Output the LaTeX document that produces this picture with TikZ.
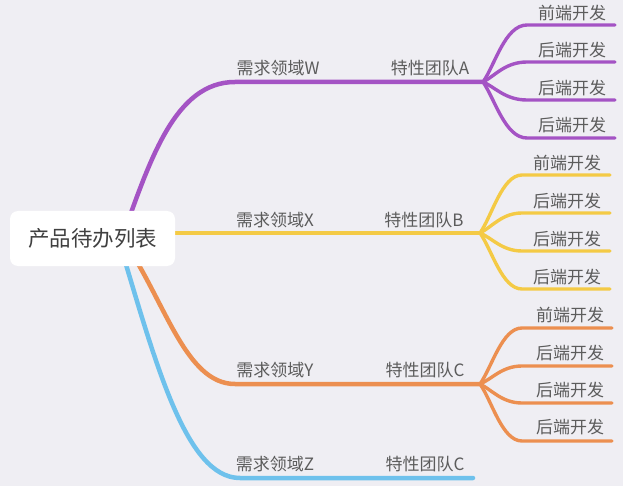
\documentclass[tikz,border=0pt]{standalone}
\usepackage{fontspec}
\setmainfont{Noto Sans CJK SC}
\definecolor{bg}{HTML}{EFEEF3}
\definecolor{cpur}{HTML}{A453C4}
\definecolor{cyel}{HTML}{F4CA45}
\definecolor{cora}{HTML}{EC8F50}
\definecolor{cblu}{HTML}{6EC1EC}
\definecolor{ctxt}{HTML}{5C5C5C}
\begin{document}
\begin{tikzpicture}[x=1pt,y=-1pt,
  lbl/.style={text=ctxt,font=\fontsize{17}{20}\selectfont,inner sep=0pt},
  rootbox/.style={fill=white,rounded corners=8pt,minimum width=165pt,minimum height=55pt,text=black!75,font=\fontsize{21.5}{24}\selectfont},
  mainline/.style={line width=4.5pt,line cap=round},
  leafline/.style={line width=3.4pt,line cap=round}]
\fill[bg] (0,0) rectangle (623,486);
\useasboundingbox (0,0) rectangle (623,486);
% branch points
\coordinate (r0) at (122,238);
\coordinate (A) at (483,82);
\coordinate (B) at (480,233);
\coordinate (C) at (480,384);
\coordinate (Z) at (473,478);
\coordinate (w0) at (235,82);
\coordinate (y0) at (235,384);
\coordinate (z0) at (240,478);
\coordinate (x0) at (150,233);
% main branches
\draw[mainline,cpur] (r0) .. controls (150,160) and (175,82) .. (w0) -- (A);
\draw[mainline,cblu] (118,238) .. controls (155,360) and (185,478) .. (z0) -- (Z);
\draw[mainline,cora] (r0) .. controls (165,300) and (185,384) .. (y0) -- (C);
\draw[mainline,cyel] (x0) -- (B);
% fan A
\foreach \n/\y/\c in {1/25/65,2/62/76,3/100/87,4/138/99}{
  \coordinate (a\n s) at (527,\y);
  \coordinate (a\n e) at (615,\y);
  \draw[leafline,cpur] (A) .. controls (495,\c) and (505,\y) .. (a\n s) -- (a\n e);
}
% fan B
\foreach \n/\y/\c in {1/175/216,2/213/227,3/251/238,4/289/250}{
  \coordinate (b\n s) at (522,\y);
  \coordinate (b\n e) at (610,\y);
  \draw[leafline,cyel] (B) .. controls (492,\c) and (502,\y) .. (b\n s) -- (b\n e);
}
% fan C
\foreach \n/\y/\c in {1/328/367,2/366/379,3/403/390,4/441/401}{
  \coordinate (c\n s) at (522,\y);
  \coordinate (c\n e) at (612,\y);
  \draw[leafline,cora] (C) .. controls (492,\c) and (502,\y) .. (c\n s) -- (c\n e);
}
% root
\node[rootbox] (root) at (92.5,238.5) {产品待办列表};
% mid labels
\node[lbl] (lw) at (278,68) {需求领域W};
\node[lbl] (ta) at (430,68) {特性团队A};
\node[lbl] (lx) at (275,220) {需求领域X};
\node[lbl] (tb) at (424,220) {特性团队B};
\node[lbl] (ly) at (275,370) {需求领域Y};
\node[lbl] (tc) at (425,370) {特性团队C};
\node[lbl] (lz) at (275,464) {需求领域Z};
\node[lbl] (tc2) at (425,464) {特性团队C};
% leaf labels
\node[lbl] (la1) at (572,13) {前端开发};
\node[lbl] (la2) at (572,50) {后端开发};
\node[lbl] (la3) at (572,88) {后端开发};
\node[lbl] (la4) at (572,125) {后端开发};
\node[lbl] (lb1) at (567,163) {前端开发};
\node[lbl] (lb2) at (567,201) {后端开发};
\node[lbl] (lb3) at (567,239) {后端开发};
\node[lbl] (lb4) at (567,277) {后端开发};
\node[lbl] (lc1) at (570,315) {前端开发};
\node[lbl] (lc2) at (570,353) {后端开发};
\node[lbl] (lc3) at (570,390) {后端开发};
\node[lbl] (lc4) at (570,427) {后端开发};
\end{tikzpicture}
\end{document}
